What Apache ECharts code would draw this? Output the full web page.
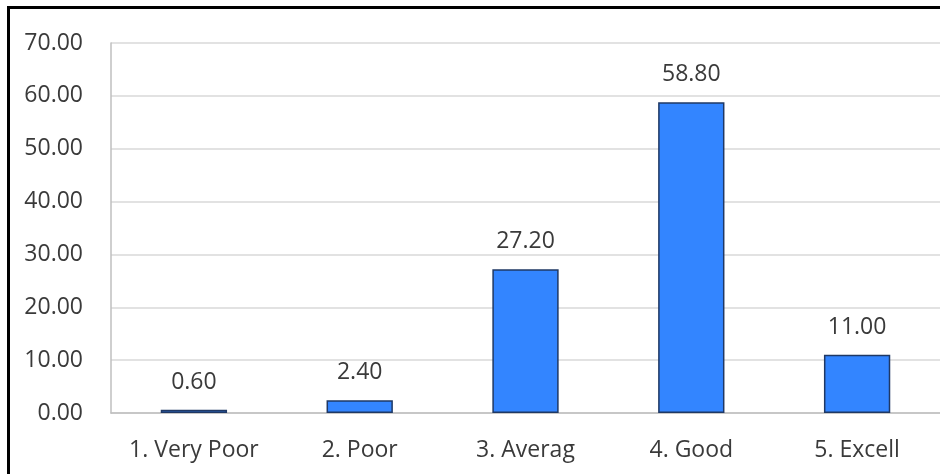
<!DOCTYPE html>
<html>
<head>
<meta charset="utf-8">
<script src="https://cdn.jsdelivr.net/npm/echarts@6/dist/echarts.min.js"></script>
<style>
html,body{margin:0;padding:0;background:#fff;}
#chart{width:940px;height:474px;}
</style>
</head>
<body>
<div id="chart"></div>
<script>
const categories = ['1. Very Poor', '2. Poor', '3. Averag', '4. Good', '5. Excell'];
const values = [0.60, 2.40, 27.20, 58.80, 11.00];
const yTicks = { min: 0, max: 70, interval: 10 };

const chart = echarts.init(document.getElementById('chart'));
const font = '"Open Sans", Lato, sans-serif';
chart.setOption({
  animation: false,
  backgroundColor: '#fff',
  graphic: [
    { type: 'rect', shape: { x: 7, y: 6, width: 940, height: 3 }, style: { fill: '#000' } },
    { type: 'rect', shape: { x: 7, y: 6, width: 3, height: 480 }, style: { fill: '#000' } }
  ],
  grid: { left: 111, right: -5, top: 43, bottom: 61, containLabel: false },
  xAxis: {
    type: 'category',
    data: categories,
    axisLine: { show: true, lineStyle: { color: '#bfbfbf', width: 1.5 } },
    axisTick: { show: false },
    axisLabel: { color: '#3a3a3a', fontSize: 23, fontFamily: font, margin: 26,
      interval: 0, hideOverlap: false }
  },
  yAxis: {
    type: 'value',
    min: yTicks.min, max: yTicks.max, interval: yTicks.interval,
    axisLine: { show: true, lineStyle: { color: '#bfbfbf', width: 1.5 } },
    axisTick: { show: false },
    splitLine: { lineStyle: { color: '#d9d9d9', width: 1.5 } },
    axisLabel: { color: '#3a3a3a', fontSize: 23, fontFamily: font, margin: 28,
      formatter: v => v.toFixed(2) }
  },
  series: [{
    type: 'bar',
    data: values,
    barWidth: '40%',
    itemStyle: { color: '#3385ff', borderColor: '#1f3864', borderWidth: 1.5 },
    label: { show: true, position: 'top', distance: 16, color: '#3a3a3a', fontSize: 23, fontFamily: font,
      formatter: p => p.value.toFixed(2) }
  }]
});
</script>
</body>
</html>
